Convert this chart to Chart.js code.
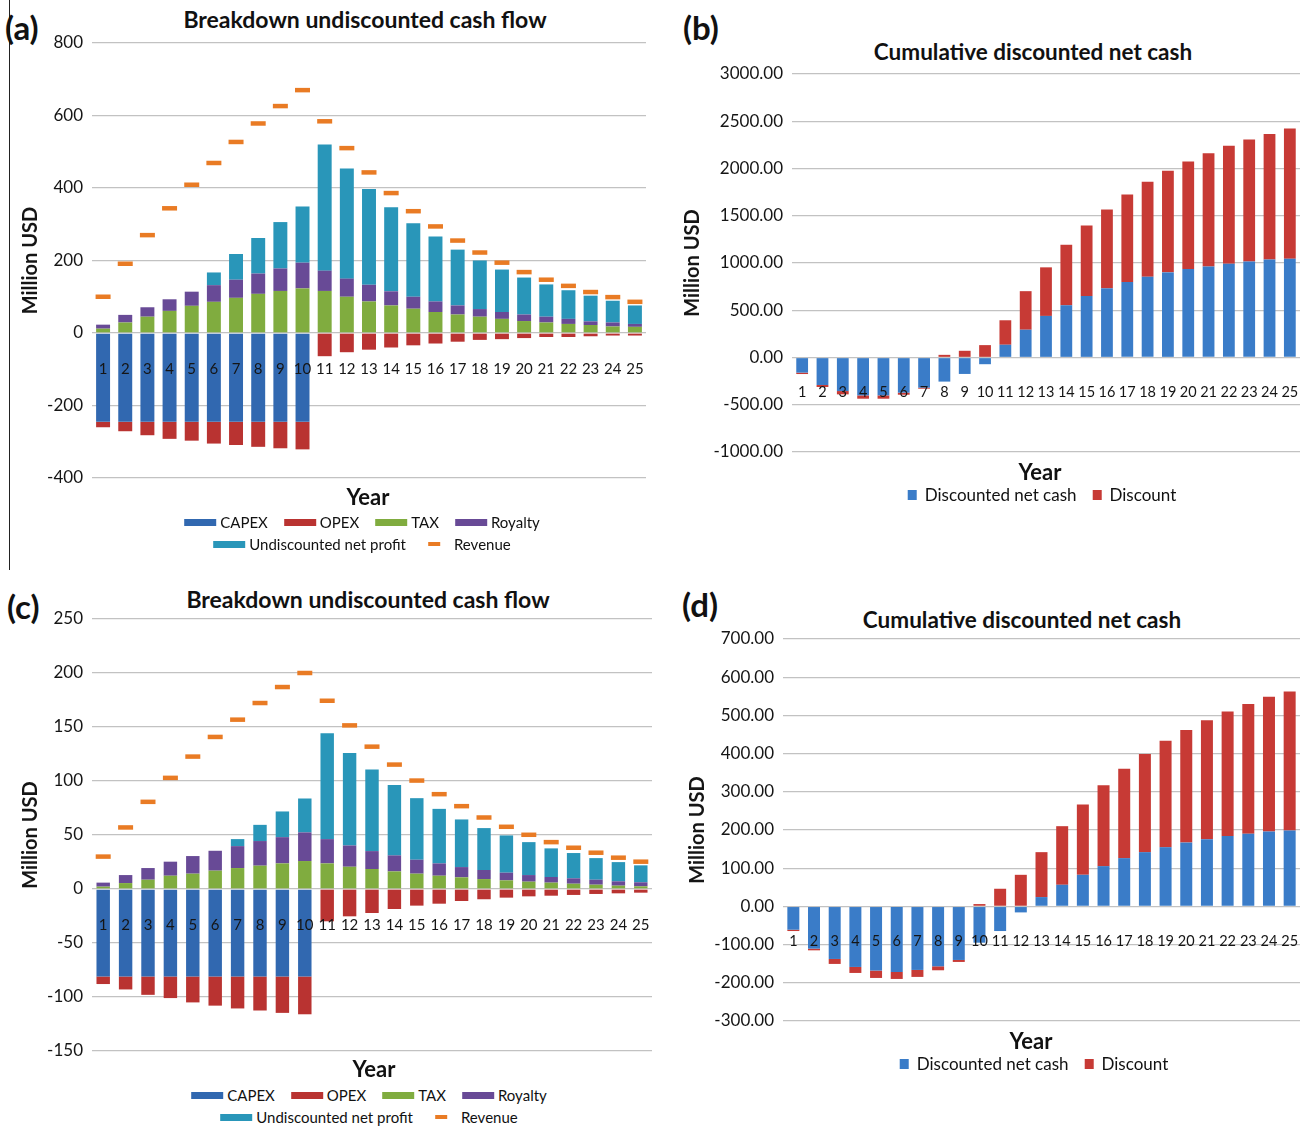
<!DOCTYPE html>
<html>
<head>
<meta charset="utf-8">
<script src="https://cdn.jsdelivr.net/npm/chart.js@4.4.1/dist/chart.umd.min.js"></script>
<style>
  body { margin: 0; background: #fff; font-family: Lato, 'Open Sans', sans-serif; color: #111; }
  #page { position: relative; width: 1309px; height: 1129px; overflow: hidden; }
  .box { position: absolute; }
  .txt { position: absolute; white-space: nowrap; transform: translate(-50%, -50%); }
  .tag { position: absolute; font-weight: 700; font-size: 33px; transform: translateY(-50%); }
  .title { font-weight: 700; font-size: 23px; }
  .title.small { font-size: 22.5px; }
  .axis { font-weight: 700; font-size: 22px; }
  .legend { position: absolute; transform: translateX(-50%); display: flex; flex-direction: column; align-items: center; gap: 4px; }
  .legend .row { display: flex; align-items: center; gap: 16px; white-space: nowrap; }
  .legend .item { display: flex; align-items: center; gap: 4px; }
  .legend .sw { display: inline-block; }
  #edge { position: absolute; left: 9px; top: 0; height: 570px; border-left: 1.5px solid #222; }
</style>
</head>
<body>
<div id="page">
  <div id="edge"></div>

  <div class="tag" style="left:5px; top:27px;">(a)</div>
  <div class="txt title" style="left:365px; top:19px;">Breakdown undiscounted cash flow</div>
  <div class="box" style="left:0; top:31px; width:646px; height:459px;"><canvas id="chartA"></canvas></div>
  <div class="txt axis" style="left:368px; top:496px;">Year</div>
  <div class="legend" id="legendA" style="left:362px; top:513px;"></div>

  <div class="tag" style="left:683px; top:27px;">(b)</div>
  <div class="txt title small" style="left:1033px; top:51px;">Cumulative discounted net cash</div>
  <div class="box" style="left:670px; top:62px; width:630px; height:402px;"><canvas id="chartB"></canvas></div>
  <div class="txt axis" style="left:1040px; top:471px;">Year</div>
  <div class="legend" id="legendB" style="left:1042px; top:484px;"></div>

  <div class="tag" style="left:7px; top:606px;">(c)</div>
  <div class="txt title" style="left:368px; top:599px;">Breakdown undiscounted cash flow</div>
  <div class="box" style="left:0; top:607px; width:652px; height:456px;"><canvas id="chartC"></canvas></div>
  <div class="txt axis" style="left:374px; top:1068px;">Year</div>
  <div class="legend" id="legendC" style="left:369px; top:1086px;"></div>

  <div class="tag" style="left:682px; top:604px;">(d)</div>
  <div class="txt title small" style="left:1022px; top:619px;">Cumulative discounted net cash</div>
  <div class="box" style="left:670px; top:627px; width:630px; height:406px;"><canvas id="chartD"></canvas></div>
  <div class="txt axis" style="left:1031px; top:1040px;">Year</div>
  <div class="legend" id="legendD" style="left:1034px; top:1053px;"></div>
</div>

<script>
const years = ['1', '2', '3', '4', '5', '6', '7', '8', '9', '10', '11', '12', '13',
  '14', '15', '16', '17', '18', '19', '20', '21', '22', '23', '24', '25'];

// (a) breakdown, larger case
const capexA = [-245, -245, -245, -245, -245, -245, -245, -245, -245, -245, 0, 0, 0, 0, 0, 0, 0, 0, 0, 0, 0, 0, 0, 0, 0];
const opexA = [-15, -26, -37, -47, -52, -60, -64, -69, -73, -76, -64, -53, -46, -40, -34, -29, -24, -19, -17, -14, -11, -11, -9, -7, -7];
const taxA = [12, 29, 45, 61, 75, 86, 97, 108, 116, 123, 116, 100, 87, 76, 67, 58, 51, 45, 39, 33, 29, 25, 22, 18, 17];
const royaltyA = [11, 21, 26, 32, 39, 46, 50, 56, 62, 71, 56, 50, 46, 39, 33, 29, 25, 21, 19, 18, 16, 14, 10, 11, 8];
const netProfitA = [0, 0, 0, 0, 0, 35, 71, 98, 128, 155, 348, 304, 264, 232, 203, 179, 154, 134, 117, 102, 89, 79, 71, 60, 51];
const revenueA = [100, 191, 270, 344, 409, 469, 527, 578, 626, 670, 584, 510, 443, 386, 336, 294, 255, 222, 194, 168, 147, 130, 113, 99, 86];

// (b) cumulative, larger case
const netCashB = [-160, -291, -355, -401, -401, -372, -319, -255, -174, -71, 135, 294, 440, 553, 651, 732, 799, 855, 901, 936, 964, 993, 1017, 1038, 1045];
const discountB = [-15, -21, -35, -35, -35, -22, -11, 28, 71, 131, 259, 408, 514, 640, 746, 834, 926, 1004, 1074, 1137, 1197, 1249, 1289, 1328, 1377];

// (c) breakdown, smaller case
const capexC = [-81, -81, -81, -81, -81, -81, -81, -81, -81, -81, 0, 0, 0, 0, 0, 0, 0, 0, 0, 0, 0, 0, 0, 0, 0];
const opexC = [-7, -12, -17, -20, -24, -27, -29.6, -31.5, -33.7, -35, -29.9, -25.3, -22.2, -18.5, -15.4, -13.6, -11.1, -9.5, -8, -6.8, -6.2, -5.5, -4.6, -4, -3.4];
const taxC = [2.2, 5.5, 8.6, 12.3, 14.2, 17, 19.4, 21.6, 23.7, 25.9, 23.7, 20.6, 18.5, 16.3, 14.2, 12.3, 10.8, 9.2, 8, 6.8, 5.9, 4.9, 4, 3.1, 2.5];
const royaltyC = [3.7, 7.4, 10.8, 13, 16.3, 18.4, 20.3, 22.8, 24.3, 26.5, 22.5, 19.7, 16.6, 14.8, 12.9, 11.4, 9.5, 8.4, 7.1, 6.1, 5.2, 5, 4.6, 4, 3.7];
const netProfitC = [0, 0, 0, 0, 0, 0, 6.5, 15, 23.8, 31.4, 97.9, 85.7, 75.5, 65.3, 57, 50.5, 44.1, 38.8, 34.5, 30.5, 26.5, 23.4, 20, 17.8, 15.7];
const revenueC = [30, 57, 80.7, 102.9, 122.6, 140.8, 156.8, 172.2, 187, 200, 174.3, 151.5, 131.8, 115.2, 100.4, 87.8, 76.7, 66.2, 57.6, 50.2, 43.4, 38.2, 33.6, 29, 25.3];

// (d) cumulative, smaller case
const netCashD = [-61, -110.6, -137.6, -158.5, -168, -171.6, -166.3, -156.8, -140.2, -95, -64.5, -15.7, 24.4, 56.6, 82.7, 105.4, 126.3, 142, 155, 167.2, 176, 184.6, 189.9, 196, 198.6];
const discountD = [-3.5, -4.4, -13, -15.7, -19.3, -18.3, -18.3, -10.4, -5.2, 6.1, 46.2, 82.7, 117.6, 153.4, 183.8, 211.6, 234.3, 257, 278.8, 294.4, 311, 325.8, 339.7, 352.7, 364.1];

const colors = {
  capex: '#3168b0',
  opex: '#b93331',
  tax: '#80ac3f',
  royalty: '#684a96',
  net: '#2996b9',
  revenue: '#e97b24',
  cashBlue: '#3a7cc8',
  discountRed: '#c73a35',
};

const gridColor = '#c2c2c2';
const textColor = '#151515';

function breakdownSets(capex, opex, tax, royalty, net, revenue) {
  return [
    { type: 'bar', label: 'CAPEX', data: capex, backgroundColor: colors.capex },
    { type: 'bar', label: 'OPEX', data: opex, backgroundColor: colors.opex },
    { type: 'bar', label: 'TAX', data: tax, backgroundColor: colors.tax },
    { type: 'bar', label: 'Royalty', data: royalty, backgroundColor: colors.royalty },
    { type: 'bar', label: 'Undiscounted net profit', data: net, backgroundColor: colors.net },
    {
      type: 'line',
      label: 'Revenue',
      data: revenue,
      stack: 'revenue',
      order: -1,
      showLine: false,
      pointStyle: 'line',
      pointRadius: 7.5,
      pointBorderWidth: 4.5,
      borderColor: colors.revenue,
      backgroundColor: colors.revenue,
    },
  ];
}

function cumulativeSets(cash, discount) {
  return [
    { label: 'Discounted net cash', data: cash, backgroundColor: colors.cashBlue },
    { label: 'Discount', data: discount, backgroundColor: colors.discountRed },
  ];
}

function makeChart(id, datasets, opts) {
  return new Chart(document.getElementById(id), {
    type: 'bar',
    data: { labels: years, datasets },
    options: {
      responsive: true,
      maintainAspectRatio: false,
      animation: false,
      layout: { autoPadding: false, padding: { top: 12, bottom: 12, left: 0, right: 0 } },
      datasets: {
        bar: { barPercentage: opts.barPct, categoryPercentage: 1 },
      },
      plugins: { legend: { display: false }, tooltip: { enabled: false } },
      scales: {
        x: {
          type: 'category',
          stacked: true,
          position: { y: 0 },
          afterFit: (scale) => { scale.paddingLeft = 0; scale.paddingRight = 0; },
          grid: { display: false, drawTicks: false },
          border: { display: false },
          ticks: {
            z: 1,
            color: textColor,
            autoSkip: false,
            maxRotation: 0,
            padding: opts.xPad,
            font: { family: 'Lato', size: opts.xFont },
          },
        },
        y: {
          stacked: true,
          min: opts.min,
          max: opts.max,
          afterFit: (scale) => {
            scale.width = opts.yWidth;
            scale.paddingTop = 0;
            scale.paddingBottom = 0;
          },
          grid: { color: gridColor, lineWidth: 1.3, drawTicks: false },
          border: { display: false },
          ticks: {
            stepSize: opts.step,
            color: textColor,
            padding: 9,
            font: { family: 'Lato', size: 17 },
            callback: (value) => (opts.decimals ? Number(value).toFixed(2) : value),
          },
          title: {
            display: true,
            text: 'Million USD',
            color: textColor,
            padding: { top: opts.titlePad, bottom: 0 },
            font: { family: 'Lato', size: 20, weight: 'bold' },
          },
        },
      },
    },
  });
}

// move/resize the canvas box so the plot area lands on the reference gridlines
function alignArea(chart, target) {
  const box = chart.canvas.parentNode;
  const area = chart.chartArea;
  const w = box.clientWidth;
  const h = box.clientHeight;
  const left = box.offsetLeft + (target.left - (box.offsetLeft + area.left));
  const top = box.offsetTop + (target.top - (box.offsetTop + area.top));
  box.style.left = `${left}px`;
  box.style.top = `${top}px`;
  box.style.width = `${target.right - left + (w - area.right)}px`;
  box.style.height = `${target.bottom - top + (h - area.bottom)}px`;
  chart.resize();
}

function buildLegend(el, chart, rows, fontSize, squares) {
  const sets = chart.data.datasets;
  rows.forEach((row) => {
    const rowEl = document.createElement('div');
    rowEl.className = 'row';
    row.forEach((idx) => {
      const ds = sets[idx];
      const item = document.createElement('div');
      item.className = 'item';
      item.style.fontSize = `${fontSize}px`;
      const sw = document.createElement('span');
      sw.className = 'sw';
      if (ds.type === 'line') {
        sw.style.cssText = `width:12px;height:4px;background:${ds.borderColor};margin:0 10px 0 6px;`;
      } else if (squares) {
        sw.style.cssText = `width:9px;height:10px;background:${ds.backgroundColor};margin-right:4px;`;
      } else {
        sw.style.cssText = `width:32px;height:7px;background:${ds.backgroundColor};`;
      }
      const label = document.createElement('span');
      label.textContent = ds.label;
      item.appendChild(sw);
      item.appendChild(label);
      rowEl.appendChild(item);
    });
    el.appendChild(rowEl);
  });
}

const chartA = makeChart('chartA', breakdownSets(capexA, opexA, taxA, royaltyA, netProfitA, revenueA), {
  min: -400, max: 800, step: 200, yWidth: 92, titlePad: 19, barPct: 0.63, xPad: 27, xFont: 15,
});
const chartB = makeChart('chartB', cumulativeSets(netCashB, discountB), {
  min: -1000, max: 3000, step: 500, decimals: true, yWidth: 122, titlePad: 11, barPct: 0.58, xPad: 26, xFont: 14.5,
});
const chartC = makeChart('chartC', breakdownSets(capexC, opexC, taxC, royaltyC, netProfitC, revenueC), {
  min: -150, max: 250, step: 50, yWidth: 92, titlePad: 19, barPct: 0.6, xPad: 27, xFont: 15,
});
const chartD = makeChart('chartD', cumulativeSets(netCashD, discountD), {
  min: -300, max: 700, step: 100, decimals: true, yWidth: 113, titlePad: 16, barPct: 0.58, xPad: 26, xFont: 14.5,
});

alignArea(chartA, { left: 92, top: 43, right: 646, bottom: 478 });
alignArea(chartB, { left: 792, top: 74, right: 1300, bottom: 452 });
alignArea(chartC, { left: 92, top: 619, right: 652, bottom: 1051 });
alignArea(chartD, { left: 783, top: 639, right: 1300, bottom: 1021 });

buildLegend(document.getElementById('legendA'), chartA, [[0, 1, 2, 3], [4, 5]], 15, false);
buildLegend(document.getElementById('legendB'), chartB, [[0, 1]], 17, true);
buildLegend(document.getElementById('legendC'), chartC, [[0, 1, 2, 3], [4, 5]], 15, false);
buildLegend(document.getElementById('legendD'), chartD, [[0, 1]], 17, true);
</script>
</body>
</html>
